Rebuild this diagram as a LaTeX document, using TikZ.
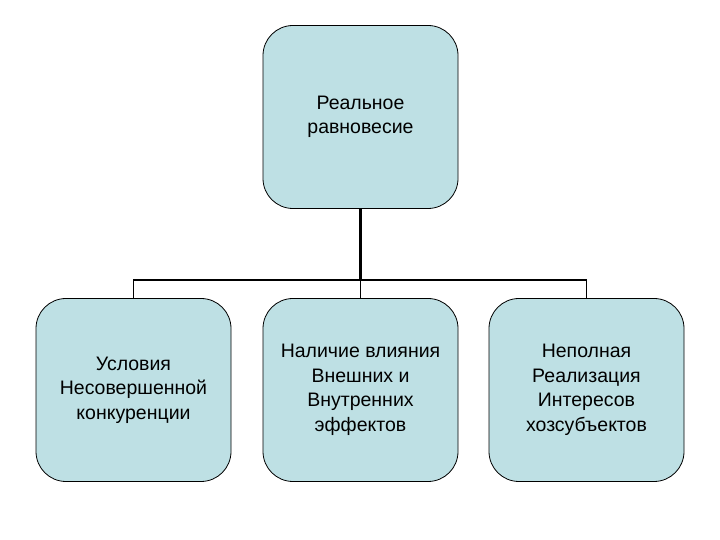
\documentclass[tikz,border=0pt]{standalone}
\usepackage{fontspec}
\setmainfont{Liberation Sans}
\usetikzlibrary{positioning}
\definecolor{boxfill}{RGB}{190,224,228}
\begin{document}
\begin{tikzpicture}[x=1pt,y=1pt,color=black,
		block/.style={draw,line width=0.8pt,fill=boxfill,rounded corners=30pt,
			minimum width=195pt,minimum height=183pt,align=center,
			font=\fontsize{19.5}{24.5}\selectfont,inner sep=2pt}]
		\useasboundingbox (0,0) rectangle (720,540);
		\node[block] (real) at (360.5,423) {Реальное\\равновесие};
		\node[block] (usl) at (133.5,150) {Условия\\Несовершенной\\конкуренции};
		\node[block] (vliy) at (360.5,150) {Наличие влияния\\Внешних и\\Внутренних\\эффектов};
		\node[block] (nepol) at (586.5,150) {Неполная\\Реализация\\Интересов\\хозсубъектов};
		\coordinate (hub) at (360.5,260);
		\draw[line width=2.5pt] (real.south) -- (hub);
		\draw[line width=1.6pt] (usl.north) -- (usl.north |- hub) -- (nepol.north |- hub) -- (nepol.north);
		\draw[line width=1.6pt] (vliy.north) -- (hub);
		\end{tikzpicture}
\end{document}
